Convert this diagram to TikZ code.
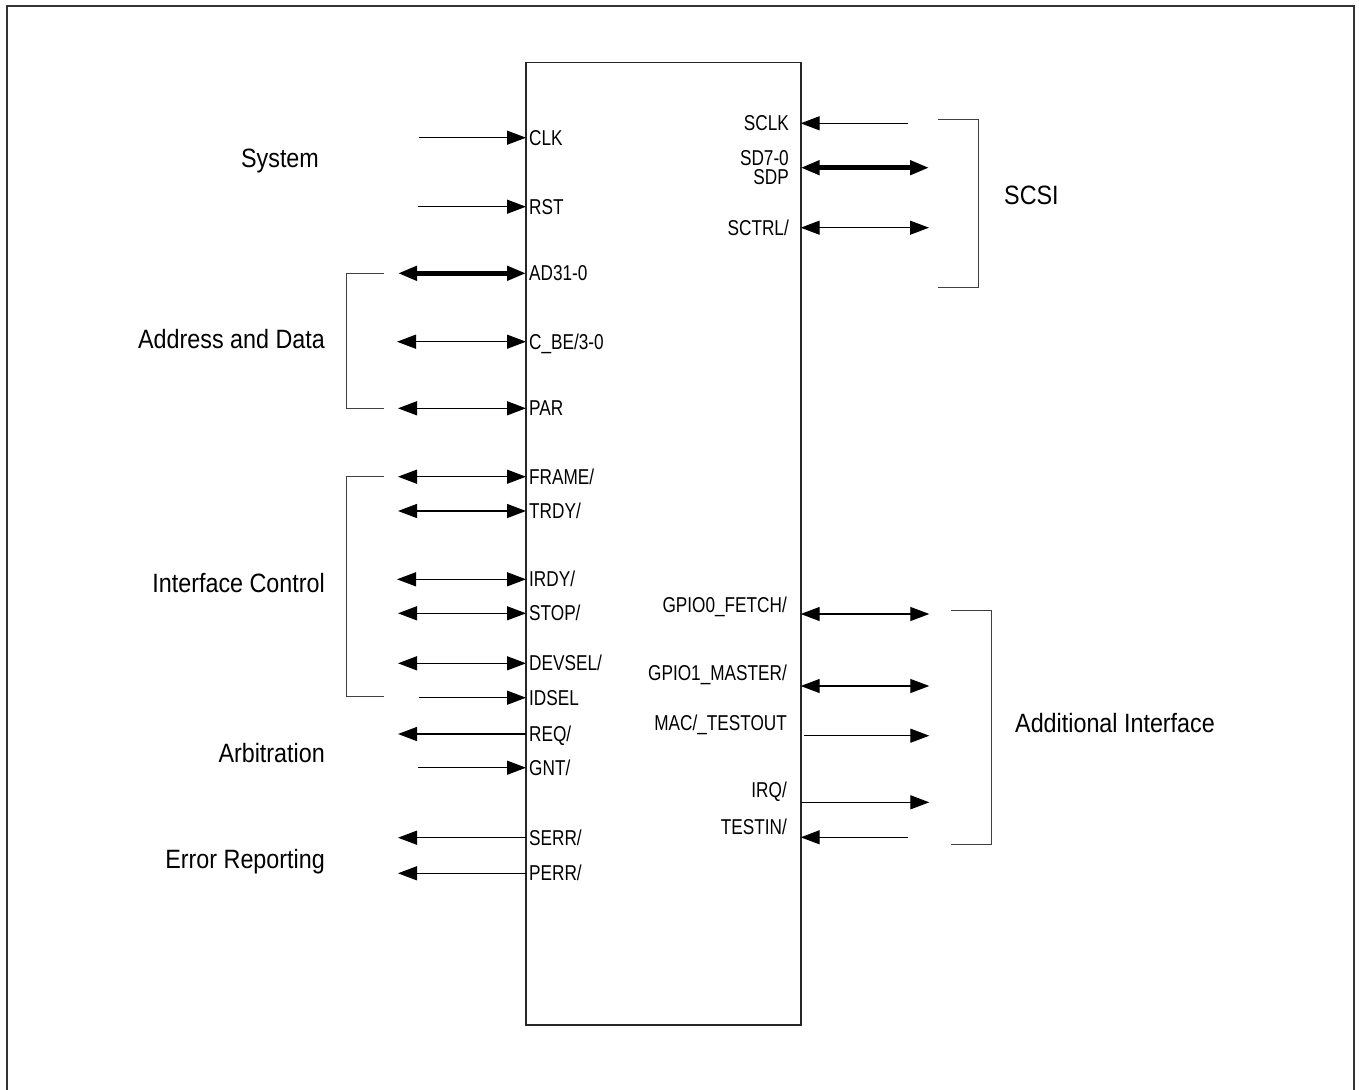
\documentclass[tikz,border=0pt]{standalone}
\usepackage{fontspec}
\setmainfont{Liberation Sans}
\newfontfamily\pinfont[FakeStretch=0.80]{Liberation Sans}
\newfontfamily\grpfont[FakeStretch=0.88]{Liberation Sans}
\usetikzlibrary{arrows.meta}
\begin{document}
\begin{tikzpicture}[x=1pt,y=-1pt,
  >={Triangle[length=19pt,width=14pt]},
  pinlbl/.style={font=\pinfont\fontsize{21.5}{24}\selectfont, inner sep=0pt, text height=15pt, text depth=0pt},
  grplbl/.style={font=\grpfont\fontsize{26.5}{30}\selectfont, inner sep=0pt, text height=19pt, text depth=0pt},
  sig/.style={line width=1.3pt},
  bus/.style={line width=4.5pt},
  brk/.style={line width=1pt, draw=black!75},
  chipbox/.style={draw=black!85, line width=1.6pt, inner sep=0pt, outer sep=0pt},
  frame/.style={draw=black!80, line width=2pt}]
\useasboundingbox (0,0) rectangle (1359,1089);
\draw[frame] (7,1095) -- (7,6) -- (1354,6) -- (1354,1095);

% chip
\node[chipbox, anchor=north west, minimum width=274.7pt, minimum height=962pt] (chip) at (526,62.7) {};

% ---- left pins: free-end coordinates
\coordinate (clk)   at (419,137.7);
\coordinate (rst)   at (418,206.7);
\coordinate (ad)    at (398,273.3);
\coordinate (cbe)   at (397,341.7);
\coordinate (par)   at (398,408.3);
\coordinate (frm)   at (398,476.7);
\coordinate (trdy)  at (398,511);
\coordinate (irdy)  at (397,579.3);
\coordinate (stop)  at (398,613.3);
\coordinate (dev)   at (398,663.3);
\coordinate (idsel) at (419,697.7);
\coordinate (req)   at (398,734);
\coordinate (gnt)   at (418,767.7);
\coordinate (serr)  at (398,837.7);
\coordinate (perr)  at (398,873.3);

\draw[sig,->]  (clk)  -- (chip.west |- clk);
\draw[sig,->]  (rst)  -- (chip.west |- rst);
\draw[bus,<->] (ad)   -- (chip.west |- ad);
\draw[sig,<->] (cbe)  -- (chip.west |- cbe);
\draw[sig,<->] (par)  -- (chip.west |- par);
\draw[sig,<->] (frm)  -- (chip.west |- frm);
\draw[sig,<->] (trdy) -- (chip.west |- trdy);
\draw[sig,<->] (irdy) -- (chip.west |- irdy);
\draw[sig,<->] (stop) -- (chip.west |- stop);
\draw[sig,<->] (dev)  -- (chip.west |- dev);
\draw[sig,->]  (idsel) -- (chip.west |- idsel);
\draw[sig,<-]  (req)  -- (chip.west |- req);
\draw[sig,->]  (gnt)  -- (chip.west |- gnt);
\draw[sig,<-]  (serr) -- (chip.west |- serr);
\draw[sig,<-]  (perr) -- (chip.west |- perr);

\node[pinlbl, anchor=west] (lclk)  at (529,137.7) {CLK};
\node[pinlbl, anchor=west] (lrst)  at (529,206.7) {RST};
\node[pinlbl, anchor=west] (lad)   at (529,273.3) {AD31-0};
\node[pinlbl, anchor=west] (lcbe)  at (529,341.7) {C\_BE/3-0};
\node[pinlbl, anchor=west] (lpar)  at (529,408.3) {PAR};
\node[pinlbl, anchor=west] (lfrm)  at (529,476.7) {FRAME/};
\node[pinlbl, anchor=west] (ltrdy) at (529,511) {TRDY/};
\node[pinlbl, anchor=west] (lirdy) at (529,579.3) {IRDY/};
\node[pinlbl, anchor=west] (lstop) at (529,613.3) {STOP/};
\node[pinlbl, anchor=west] (ldev)  at (529,663.3) {DEVSEL/};
\node[pinlbl, anchor=west] (lids)  at (529,697.7) {IDSEL};
\node[pinlbl, anchor=west] (lreq)  at (529,734) {REQ/};
\node[pinlbl, anchor=west] (lgnt)  at (529,767.7) {GNT/};
\node[pinlbl, anchor=west] (lserr) at (529,837.7) {SERR/};
\node[pinlbl, anchor=west] (lperr) at (529,873.3) {PERR/};

% ---- left brackets
\coordinate (adT) at (384,273.3);
\coordinate (adB) at (384,408.3);
\draw[brk] (adT) -- (346,273.3) -- (346,408.3) -- (adB);
\coordinate (icT) at (384,476.7);
\coordinate (icB) at (384,696.7);
\draw[brk] (icT) -- (346.7,476.7) -- (346.7,696.7) -- (icB);

% ---- left group labels
\node[grplbl] (gsys) at (280,158.3) {System};
\node[grplbl, anchor=east] (gad)  at (325,339) {Address and Data};
\node[grplbl, anchor=east] (gic)  at (325,583.3) {Interface Control};
\node[grplbl, anchor=east] (garb) at (325,752.7) {Arbitration};
\node[grplbl, anchor=east] (gerr) at (325,859.3) {Error Reporting};

% ---- right SCSI pins
\coordinate (sclk)  at (908,123.3);
\coordinate (sd)    at (929,167.7);
\coordinate (sctrl) at (929,227.7);
\draw[sig,<-]  (chip.east |- sclk)  -- (sclk);
\draw[bus,<->] (chip.east |- sd)    -- (sd);
\draw[sig,<->] (chip.east |- sctrl) -- (sctrl);

\node[pinlbl, anchor=east] (lsclk)  at (789,123.3) {SCLK};
\node[pinlbl, anchor=east] (lsd)    at (789,158) {SD7-0};
\node[pinlbl, anchor=east] (lsdp)   at (789,177) {SDP};
\node[pinlbl, anchor=east] (lsctrl) at (789,227.7) {SCTRL/};

\coordinate (scT) at (938,119.3);
\coordinate (scB) at (938,287.3);
\draw[brk] (scT) -- (978.3,119.3) -- (978.3,287.3) -- (scB);
\node[grplbl, anchor=west] (gscsi) at (1004,195) {SCSI};

% ---- right additional interface pins
\coordinate (gp0) at (929.3,614);
\coordinate (gp1) at (929.3,686);
\coordinate (macS) at (804,735.7);
\coordinate (mac) at (929.3,735.7);
\coordinate (irq) at (929.3,802.3);
\coordinate (tin) at (908,837.3);
\draw[sig,<->] (chip.east |- gp0) -- (gp0);
\draw[sig,<->] (chip.east |- gp1) -- (gp1);
\draw[sig,->]  (macS) -- (mac);
\draw[sig,->]  (chip.east |- irq) -- (irq);
\draw[sig,<-]  (chip.east |- tin) -- (tin);

\node[pinlbl, anchor=east] (lgp0) at (787,605) {GPIO0\_FETCH/};
\node[pinlbl, anchor=east] (lgp1) at (787,672.7) {GPIO1\_MASTER/};
\node[pinlbl, anchor=east] (lmac) at (787,723.3) {MAC/\_TESTOUT};
\node[pinlbl, anchor=east] (lirq) at (787,790) {IRQ/};
\node[pinlbl, anchor=east] (ltin) at (787,827.3) {TESTIN/};

\coordinate (aiT) at (950.7,610.7);
\coordinate (aiB) at (950.7,844);
\draw[brk] (aiT) -- (991.7,610.7) -- (991.7,844) -- (aiB);
\node[grplbl, anchor=west] (gai) at (1015,723) {Additional Interface};
\end{tikzpicture}
\end{document}
